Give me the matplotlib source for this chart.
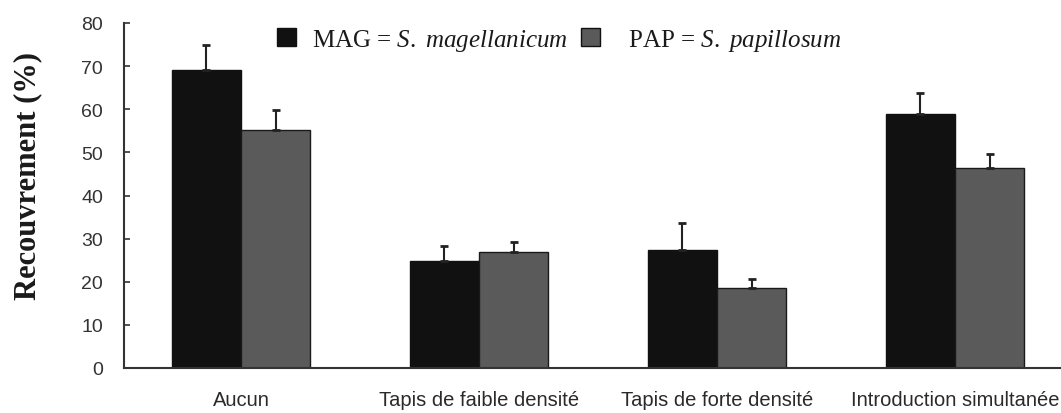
import matplotlib
matplotlib.use("Agg")
import matplotlib.pyplot as plt
import numpy as np
from matplotlib.patches import Patch

# ---- data ----
categories = ["Aucun", "Tapis de faible densité", "Tapis de forte densité", "Introduction simultanée"]
mag_values = [69.0, 24.9, 27.4, 58.9]
mag_errors = [6.0, 3.5, 6.2, 4.9]
pap_values = [55.3, 26.8, 18.5, 46.4]
pap_errors = [4.6, 2.5, 2.1, 3.3]
y_ticks = [0, 10, 20, 30, 40, 50, 60, 70, 80]

# ---- layout ----
W, H = 1061, 414
x = np.arange(len(categories))
bar_w = 0.29

plt.rcParams["mathtext.fontset"] = "custom"
plt.rcParams["mathtext.rm"] = "Liberation Serif"
plt.rcParams["mathtext.it"] = "Liberation Serif:italic"

fig = plt.figure(figsize=(W/100, H/100), dpi=100)
ax = fig.add_axes([124/W, 45/H, 1 - 124/W, 345/H])

mag_color = "#111111"
pap_color = "#5a5a5a"

ax.bar(x - bar_w/2, mag_values, width=bar_w, color=mag_color,
       edgecolor="#111111", linewidth=1.0, zorder=2)
ax.bar(x + bar_w/2, pap_values, width=bar_w, color=pap_color,
       edgecolor="#1a1a1a", linewidth=1.0, zorder=2)
ax.errorbar(x - bar_w/2, mag_values, yerr=[np.zeros(4), mag_errors],
            fmt="none", ecolor="#222222", elinewidth=1.5, capsize=3.2, capthick=2, zorder=3)
ax.errorbar(x + bar_w/2, pap_values, yerr=[np.zeros(4), pap_errors],
            fmt="none", ecolor="#222222", elinewidth=1.5, capsize=3.2, capthick=2, zorder=3)

ax.set_ylim(0, 80)
ax.set_xlim((124 - 241) / 238, (W - 241) / 238)
ax.set_yticks(y_ticks)
ax.set_xticks(x)
ax.set_xticklabels(categories)
for s in ["top", "right"]:
    ax.spines[s].set_visible(False)
for s in ["left", "bottom"]:
    ax.spines[s].set_linewidth(1.5)
    ax.spines[s].set_color("#333333")
ax.tick_params(axis="y", direction="in", length=4, width=1.2, colors="#333333",
               labelsize=14, labelcolor="#333333", pad=15)
ax.tick_params(axis="x", length=0, labelsize=14.5, labelcolor="#2a2a2a", pad=16)
for lab in ax.get_xticklabels() + ax.get_yticklabels():
    lab.set_family("Liberation Sans")

fig.text(28/W, 1 - 176/H, "Recouvrement (%)", rotation=90, ha="center", va="center",
         family="Liberation Serif", fontweight="bold", fontsize=22, color="#1a1a1a")

handles = [Patch(facecolor=mag_color, edgecolor="#111111"),
           Patch(facecolor=pap_color, edgecolor="#111111")]
labels = [r"MAG = $\mathit{S.\ magellanicum}$", r"  PAP = $\mathit{S.\ papillosum}$"]
leg = fig.legend(handles, labels, ncol=2, frameon=False, loc="center left",
                 bbox_to_anchor=(277/W, 1 - 41/H), borderpad=0, borderaxespad=0,
                 prop={"family": "Liberation Serif", "size": 18},
                 handlelength=0.76, handleheight=0.72, handletextpad=0.65, columnspacing=0.5)
for t in leg.get_texts():
    t.set_color("#1a1a1a")

fig.savefig("out.png", dpi=100)
